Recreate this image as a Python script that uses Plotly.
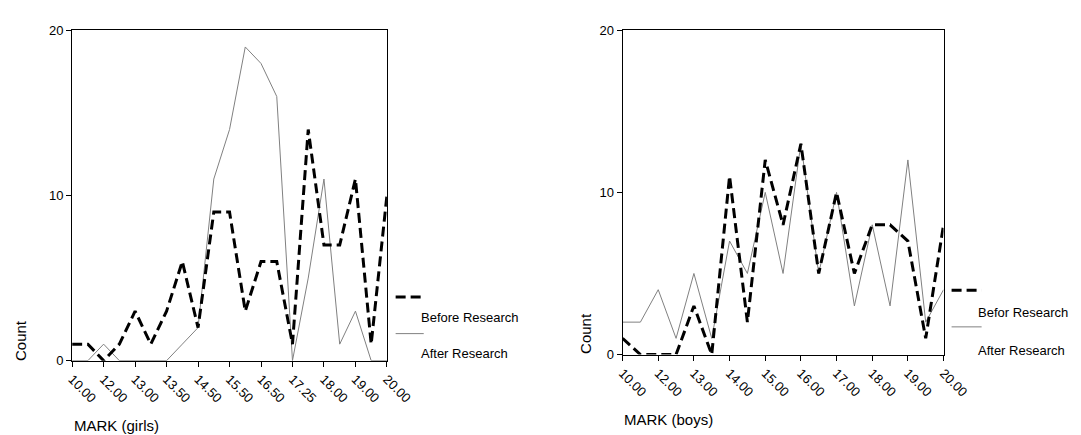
import plotly.graph_objects as go

W, H = 1081, 435

# ---- data ----
girls_ticks = ["10.00", "12.00", "13.00", "13.50", "14.50", "15.50",
               "16.50", "17.25", "18.00", "19.00", "20.00"]
girls_before = [1, 1, 0, 1, 3, 1, 3, 6, 2, 9, 9, 3, 6, 6, 1, 14, 7, 7, 11, 1, 10]
girls_after = [0, 0, 1, 0, 0, 0, 0, 1, 2, 11, 14, 19, 18, 16, 0, 5, 11, 1, 3, 0, 0]

boys_ticks = ["10.00", "12.00", "13.00", "14.00", "15.00", "16.00",
              "17.00", "18.00", "19.00", "20.00"]
boys_before = [1, 0, 0, 0, 3, 0, 11, 2, 12, 8, 13, 5, 10, 5, 8, 8, 7, 1, 8]
boys_after = [2, 2, 4, 1, 5, 1, 7, 5, 10, 5, 13, 5, 10, 3, 8, 3, 12, 2, 4]

FONT = "Liberation Sans, Arial, sans-serif"
DASH = dict(color="black", width=3, dash="10px,5px")
THIN = dict(color="#808080", width=1)


def px(x):
    return x / W


def py(y):
    return 1 - y / H


fig = go.Figure()

gx = list(range(len(girls_before)))
bx = list(range(len(boys_before)))

fig.add_trace(go.Scatter(x=gx, y=girls_after, mode="lines", line=THIN,
                         xaxis="x", yaxis="y", showlegend=False))
fig.add_trace(go.Scatter(x=gx, y=girls_before, mode="lines", line=DASH,
                         xaxis="x", yaxis="y", showlegend=False))
fig.add_trace(go.Scatter(x=bx, y=boys_after, mode="lines", line=THIN,
                         xaxis="x2", yaxis="y2", showlegend=False))
fig.add_trace(go.Scatter(x=bx, y=boys_before, mode="lines", line=DASH,
                         xaxis="x2", yaxis="y2", showlegend=False))

axis_common = dict(showgrid=False, zeroline=False, showline=True,
                   linecolor="black", linewidth=1, mirror=True,
                   ticks="outside", ticklen=5, tickcolor="black",
                   tickfont=dict(family=FONT, size=13, color="black"))

fig.update_layout(
    width=W, height=H,
    margin=dict(l=0, r=0, t=0, b=0),
    paper_bgcolor="white", plot_bgcolor="white",
    font=dict(family=FONT, color="black"),
    xaxis=dict(domain=[px(59), px(384)], anchor="y", range=[0, len(girls_before) - 1],
               tickvals=list(range(0, len(girls_before), 2)), ticktext=girls_ticks,
               tickangle=45, **axis_common),
    yaxis=dict(domain=[py(358), py(16)], anchor="x", range=[0, 20],
               tickvals=[0, 10, 20], **axis_common),
    xaxis2=dict(domain=[px(627.3), px(958.7)], anchor="y2", range=[0, len(boys_before) - 1],
                tickvals=list(range(0, len(boys_before), 2)), ticktext=boys_ticks,
                tickangle=45, **axis_common),
    yaxis2=dict(domain=[py(351.7), py(15.7)], anchor="x2", range=[0, 20],
                tickvals=[0, 10, 20], **axis_common),
)

ann = []


def text(x, y, t, size, xanchor="left", angle=0):
    ann.append(dict(x=px(x), y=py(y), text=t, textangle=angle, showarrow=False,
                    xref="paper", yref="paper", xanchor=xanchor, yanchor="middle",
                    font=dict(size=size, family=FONT, color="black")))


# axis titles
text(-5, 337, "Count", 15, xanchor="left", angle=-90)
text(578, 330, "Count", 15, xanchor="left", angle=-90)
text(59, 425, "MARK (girls)", 15)
text(627, 419, "MARK (boys)", 15)

# legends
legends = [
    (393, 422, 292, 330, 417, 313, 351, "Before Research", "After Research"),
    (967, 998, 285, 323, 992, 308, 347, "Befor Research", "After Research"),
]
shapes = []
for x0, x1, yd, yt, tx, ty1, ty2, t1, t2 in legends:
    shapes.append(dict(type="line", xref="paper", yref="paper",
                       x0=px(x0), x1=px(x1), y0=py(yd), y1=py(yd), line=DASH))
    shapes.append(dict(type="line", xref="paper", yref="paper",
                       x0=px(x0), x1=px(x1), y0=py(yt), y1=py(yt), line=THIN))
    text(tx, ty1, t1, 13)
    text(tx, ty2, t2, 13)

fig.update_layout(annotations=ann, shapes=shapes)
fig.write_html("out.html")
